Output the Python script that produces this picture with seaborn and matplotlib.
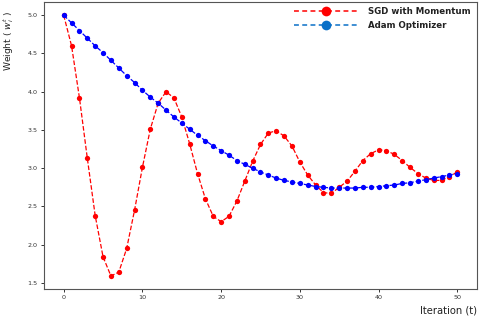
import numpy as np
import pandas as pd
import matplotlib
matplotlib.use('Agg')
import matplotlib.pyplot as plt
from matplotlib.lines import Line2D
import seaborn as sns

# Weight trajectories
iterations = list(range(51))
sgd_momentum = [5.00, 4.60, 3.92, 3.13, 2.38, 1.84, 1.59, 1.64, 1.95, 2.45,
                3.01, 3.51, 3.85, 4.00, 3.92, 3.67, 3.32, 2.93, 2.60, 2.37,
                2.30, 2.37, 2.57, 2.83, 3.09, 3.31, 3.46, 3.49, 3.42, 3.29,
                3.08, 2.91, 2.78, 2.68, 2.67, 2.75, 2.83, 2.96, 3.10, 3.19,
                3.24, 3.23, 3.18, 3.10, 3.01, 2.93, 2.87, 2.84, 2.84, 2.89,
                2.95]
adam = [5.00, 4.90, 4.80, 4.70, 4.60, 4.51, 4.41, 4.31, 4.21, 4.12,
        4.02, 3.93, 3.85, 3.76, 3.67, 3.59, 3.51, 3.43, 3.36, 3.29,
        3.23, 3.17, 3.10, 3.05, 3.00, 2.95, 2.91, 2.87, 2.84, 2.82,
        2.80, 2.78, 2.76, 2.75, 2.74, 2.74, 2.74, 2.74, 2.75, 2.75,
        2.76, 2.77, 2.78, 2.80, 2.81, 2.83, 2.85, 2.87, 2.89, 2.91,
        2.93]
legend_labels = ['SGD with Momentum', 'Adam Optimizer']

df = pd.DataFrame({'t': iterations, 'sgd': sgd_momentum, 'adam': adam})

sns.set_style('white')

fig = plt.figure(figsize=(4.8, 3.19), dpi=100)
ax = fig.add_axes([0.0917, 0.094, 0.902, 0.899])

sns.lineplot(x='t', y='sgd', data=df, ax=ax, color='red', linestyle='--',
             linewidth=0.9, marker='o', markersize=3.8, markeredgewidth=0)
sns.lineplot(x='t', y='adam', data=df, ax=ax, color='blue', linestyle='--',
             linewidth=0.9, marker='o', markersize=3.8, markeredgewidth=0)

ax.set_xticks([0, 10, 20, 30, 40, 50])
ax.set_yticks([1.5, 2.0, 2.5, 3.0, 3.5, 4.0, 4.5, 5.0])
ax.tick_params(axis='both', labelsize=4.6, colors='#333333', length=2.5,
               width=0.7, direction='out', bottom=True, left=True, pad=2)

for side in ax.spines.values():
    side.set_color('#555555')
    side.set_linewidth(0.8)

ax.set_xlabel('Iteration (t)', loc='right', fontsize=7.2, color='#222222', labelpad=4)
ax.set_ylabel('Weight ( $w_i^t$ )', fontsize=6.6, color='#222222')
ax.yaxis.set_label_coords(-0.064, 0.865)

handles = [
    Line2D([0], [0], color='red', linewidth=1.1, dashes=(3.2, 2.2),
           marker='o', markersize=7, markeredgewidth=0),
    Line2D([0], [0], color='#0a70c8', linewidth=1.1, dashes=(3.2, 2.2),
           marker='o', markersize=7, markeredgewidth=0),
]
leg = ax.legend(handles, legend_labels, loc='upper left',
                bbox_to_anchor=(0.578, 0.985), frameon=False,
                prop={'weight': 'bold', 'size': 6.2},
                handlelength=7.3, handletextpad=1.25, labelspacing=0.6,
                borderpad=0, borderaxespad=0)
for txt in leg.get_texts():
    txt.set_color('#222222')

fig.savefig('out.png', dpi=100)
